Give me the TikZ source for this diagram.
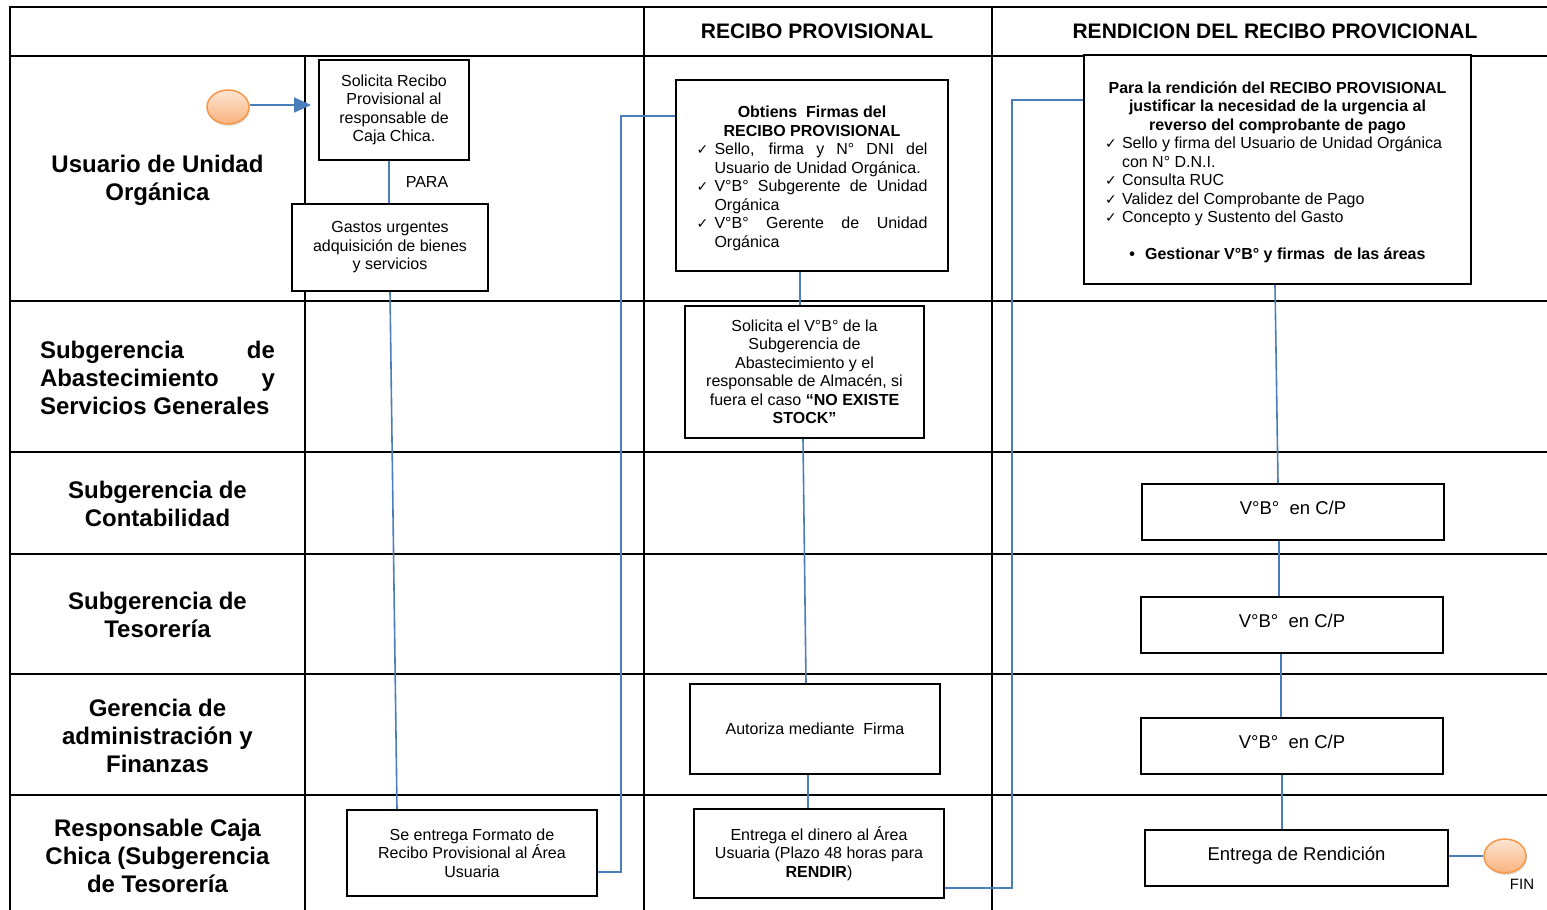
\documentclass[tikz,border=0pt]{standalone}
\usepackage{fontspec}
\setmainfont{Liberation Sans}
\newfontfamily\symfont{DejaVu Sans}
\usetikzlibrary{shapes.geometric,arrows.meta,shadows}
\definecolor{connblue}{HTML}{4A7EBB}
\definecolor{ovalborder}{HTML}{F79646}
\definecolor{ovaltop}{HTML}{FDE5D2}
\definecolor{ovalbot}{HTML}{F9B27E}
\hyphenpenalty=10000
\exhyphenpenalty=10000
\newcommand{\chkA}{\makebox[18pt][l]{{\symfont\fontsize{14}{14}\selectfont ✓}}}
\newcommand{\chkB}{\makebox[17pt][l]{{\symfont\fontsize{14}{14}\selectfont ✓}}}
\tikzset{
  gridline/.style={line width=2.4pt, black},
  box/.style={draw=black, line width=1.8pt, fill=white, inner sep=0pt, align=center,
    font=\fontsize{16}{18.5}\selectfont},
  conn/.style={draw=connblue, line width=1.6pt},
  lane/.style={font=\fontsize{24}{28}\selectfont\bfseries, align=center, inner sep=0pt},
  head/.style={font=\fontsize{21}{25}\selectfont\bfseries, inner sep=0pt},
  oval/.style={ellipse, draw=ovalborder, line width=1.5pt, top color=ovaltop, bottom color=ovalbot,
    minimum width=42pt, minimum height=34pt, inner sep=0pt,
    drop shadow={opacity=0.25, shadow xshift=1pt, shadow yshift=-2pt}},
  small/.style={font=\fontsize{16}{18.5}\selectfont, inner sep=0pt}
}
\begin{document}
\begin{tikzpicture}[x=1pt, y=-1pt]
\useasboundingbox (0,0) rectangle (1547,910);
% table grid
\draw[gridline] (10,910) -- (10,7) -- (1547,7);
\draw[gridline] (10,56) -- (1547,56);
\draw[gridline] (10,301) -- (1547,301);
\draw[gridline] (10,452) -- (1547,452);
\draw[gridline] (10,554) -- (1547,554);
\draw[gridline] (10,674) -- (1547,674);
\draw[gridline] (10,795) -- (1547,795);
\draw[gridline] (305,56) -- (305,910);
\draw[gridline] (644,7) -- (644,910);
\draw[gridline] (992,7) -- (992,910);
% headers
\node[head] (h1) at (817,31) {RECIBO PROVISIONAL};
\node[head] (h2) at (1275,31) {RENDICION DEL RECIBO PROVICIONAL};
% lane labels
\node[lane] (l1) at (157.5,180.5) {Usuario de Unidad\\Orgánica};
\node[lane, text width=235pt, align=justify] (l2) at (157.5,377.5) {Subgerencia de\linebreak Abastecimiento y\linebreak Servicios Generales};
\node[lane] (l3) at (157.5,504) {Subgerencia de\\Contabilidad};
\node[lane] (l4) at (157.5,614.5) {Subgerencia de\\Tesorería};
\node[lane] (l5) at (157.5,735.5) {Gerencia de\\administración y\\Finanzas};
\node[lane] (l6) at (157.5,856) {Responsable Caja\\Chica (Subgerencia\\de Tesorería};
% boxes
\node[box, minimum width=150pt, minimum height=100pt] (b1) at (394,110)
  {Solicita Recibo\\Provisional al\\responsable de\\Caja Chica.};
\node[box, minimum width=196pt, minimum height=87pt] (b2) at (390,247.5)
  {Gastos urgentes\\adquisición de bienes\\y servicios};
\node[box, minimum width=250pt, minimum height=86pt] (b3) at (472,853)
  {Se entrega Formato de\\Recibo Provisional al Área\\Usuaria};
\node[box, minimum width=272pt, minimum height=191pt] (b4) at (812,175.5)
  {\begin{minipage}{231pt}\fontsize{16}{18.5}\selectfont
   \vspace{6pt}
   {\centering\bfseries Obtiens\ \ Firmas del\\RECIBO PROVISIONAL\par}
   \hangindent=18pt\hangafter=1\noindent\chkA Sello, firma y N° DNI del\linebreak Usuario de Unidad Orgánica.\par
   \hangindent=18pt\hangafter=1\noindent\chkA V°B° Subgerente de Unidad\linebreak Orgánica\par
   \hangindent=18pt\hangafter=1\noindent\chkA V°B° Gerente de Unidad\linebreak Orgánica\par
   \end{minipage}};
\node[box, minimum width=239pt, minimum height=132pt] (b5) at (804.5,372)
  {Solicita el V°B° de la\\Subgerencia de\\Abastecimiento y el\\responsable de Almacén, si\\fuera el caso \textbf{“NO EXISTE}\\\textbf{STOCK”}};
\node[box, minimum width=250pt, minimum height=90pt] (b6) at (815,729)
  {Autoriza mediante\ \ Firma};
\node[box, minimum width=250pt, minimum height=89pt] (b7) at (819,853.5)
  {Entrega el dinero al Área\\Usuaria (Plazo 48 horas para\\\textbf{RENDIR})};
\node[box, minimum width=387pt, minimum height=229pt] (b8) at (1277.5,169.5)
  {\begin{minipage}{345pt}\fontsize{16}{18.5}\selectfont\raggedright
   \vspace{6pt}
   {\centering\bfseries Para la rendición del RECIBO PROVISIONAL\\justificar la necesidad de la urgencia al\\reverso del comprobante de pago\par}
   \hangindent=17pt\hangafter=1\noindent\chkB Sello y firma del Usuario de Unidad Orgánica\newline con N° D.N.I.\par
   \hangindent=17pt\hangafter=1\noindent\chkB Consulta RUC\par
   \hangindent=17pt\hangafter=1\noindent\chkB Validez del Comprobante de Pago\par
   \hangindent=17pt\hangafter=1\noindent\chkB Concepto y Sustento del Gasto\par
   \vspace{18.5pt}
   {\centering\bfseries •\hspace{10pt}Gestionar V°B° y firmas\ \ de las áreas\par}
   \end{minipage}};
\node[box, font=\fontsize{18.5}{22}\selectfont, minimum width=302pt, minimum height=56pt] (b9) at (1293,512)
  {\raisebox{9pt}{V°B°\ \ en C/P}};
\node[box, font=\fontsize{18.5}{22}\selectfont, minimum width=302pt, minimum height=56pt] (b10) at (1292,625)
  {\raisebox{9pt}{V°B°\ \ en C/P}};
\node[box, font=\fontsize{18.5}{22}\selectfont, minimum width=302pt, minimum height=56pt] (b11) at (1292,746)
  {\raisebox{9pt}{V°B°\ \ en C/P}};
\node[box, font=\fontsize{18.5}{22}\selectfont, minimum width=303pt, minimum height=56pt] (b12) at (1296.5,858)
  {\raisebox{9pt}{Entrega de Rendición}};
% start / end
\node[oval] (start) at (228,107) {};
\coordinate (arrEnd) at (311,105);
\node[oval] (end) at (1505,856) {};
\node[small, font=\fontsize{15}{18}\selectfont] (fin) at (1522,884) {FIN};
% connectors
\draw[conn, -{Triangle[length=17pt,width=15pt]}] ([yshift=2pt]start.east) -- (arrEnd);
\draw[conn] ([xshift=-5pt]b1.south) -- ([xshift=-1pt]b2.north)
  node[midway, right=16pt, small, text=black] (para) {PARA};
\draw[conn] (b2.south) -- ([xshift=-75pt]b3.north);
\draw[conn] ([yshift=-19pt]b3.east) -| ([xshift=-54pt,yshift=59.5pt]b4.west) -- ([yshift=59.5pt]b4.west);
\draw[conn] ([xshift=-12pt]b4.south) -- ([xshift=-4.5pt]b5.north);
\draw[conn] ([xshift=-1.5pt]b5.south) -- ([xshift=-9pt]b6.north);
\draw[conn] ([xshift=-7pt]b6.south) -- ([xshift=-11pt]b7.north);
\draw[conn] ([yshift=-34.5pt]b7.east) -| ([xshift=-71pt,yshift=69.5pt]b8.west) -- ([yshift=69.5pt]b8.west);
\draw[conn] ([xshift=-2.5pt]b8.south) -- ([xshift=-15pt]b9.north);
\draw[conn] ([xshift=-14pt]b9.south) -- ([xshift=-13pt]b10.north);
\draw[conn] ([xshift=-11pt]b10.south) -- ([xshift=-11pt]b11.north);
\draw[conn] ([xshift=-10pt]b11.south) -- ([xshift=-14.5pt]b12.north);
\draw[conn] ([yshift=2pt]b12.east) -- (end.west);
\end{tikzpicture}
\end{document}
